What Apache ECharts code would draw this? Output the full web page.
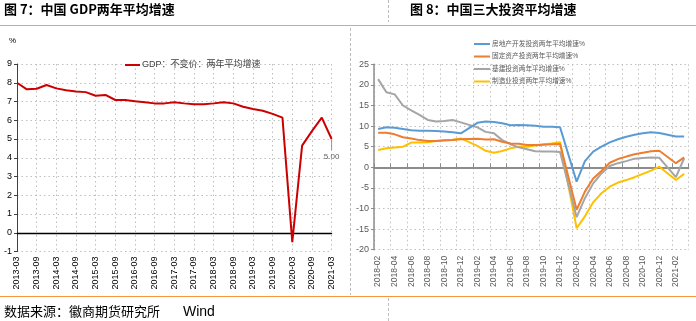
<!DOCTYPE html>
<html><head><meta charset="utf-8">
<script src="https://cdn.jsdelivr.net/npm/echarts@6/dist/echarts.min.js"></script>
<style>html,body{margin:0;padding:0;background:#fff}#c{width:696px;height:321px}</style>
</head><body><div id="c"></div>
<script>
// ---- Left chart data (quarterly) ----
const quarters = ['2013-03','2013-06','2013-09','2013-12','2014-03','2014-06','2014-09','2014-12',
  '2015-03','2015-06','2015-09','2015-12','2016-03','2016-06','2016-09','2016-12',
  '2017-03','2017-06','2017-09','2017-12','2018-03','2018-06','2018-09','2018-12',
  '2019-03','2019-06','2019-09','2019-12','2020-03','2020-06','2020-09','2020-12','2021-03'];
const gdpTwoYearAvg = [8.0,7.65,7.68,7.88,7.70,7.60,7.53,7.50,
  7.31,7.35,7.08,7.08,7.01,6.96,6.90,6.90,
  6.96,6.90,6.85,6.85,6.90,6.96,6.90,6.72,
  6.60,6.51,6.34,6.14,-0.50,4.65,5.42,6.14,5.00];
const gdpName = 'GDP：不变价：两年平均增速';
const leftYTicks = {min:-1, max:9, interval:1};

// ---- Right chart data (monthly) ----
const months = ['2018-02','2018-03','2018-04','2018-05','2018-06','2018-07','2018-08','2018-09','2018-10','2018-11','2018-12',
  '2019-01','2019-02','2019-03','2019-04','2019-05','2019-06','2019-07','2019-08','2019-09','2019-10','2019-11','2019-12',
  '2020-01','2020-02','2020-03','2020-04','2020-05','2020-06','2020-07','2020-08','2020-09','2020-10','2020-11','2020-12',
  '2021-01','2021-02','2021-03'];
const realEstate = [9.3,9.7,9.6,9.3,9.0,8.9,8.9,8.8,8.7,8.5,8.25,
  null,10.8,11.1,11.0,10.7,10.2,10.25,10.2,10.1,9.87,9.87,9.7,
  null,-3.5,1.5,3.8,5.0,6.06,6.8,7.43,7.9,8.25,8.5,8.3,
  null,7.5,7.5];
const fixedAsset = [8.4,8.4,8.0,7.3,7.0,6.6,6.4,6.4,6.5,6.6,6.8,
  null,6.9,6.75,6.8,6.2,5.8,5.7,5.4,5.4,5.5,5.6,5.65,
  null,-10.3,-5.9,-2.7,-0.9,1.1,2.0,2.6,3.15,3.55,3.9,4.0,
  null,1.0,2.4];
const infra = [21.4,18.2,17.7,15.0,13.8,12.7,11.5,11.1,11.25,11.5,10.9,
  null,9.7,8.6,8.25,6.6,5.6,4.85,4.4,3.9,3.85,3.85,3.7,
  null,-12.1,-7.5,-3.9,-1.5,0.3,1.0,1.5,2.1,2.25,2.4,2.3,
  null,-2.4,2.2];
const manufacturing = [4.2,4.6,4.8,5.0,6.0,6.0,6.1,6.4,6.6,6.7,7.0,
  null,5.2,4.0,3.55,3.95,4.6,5.0,5.0,5.3,5.6,5.8,6.07,
  null,-14.8,-11.9,-8.5,-6.3,-4.7,-3.7,-3.1,-2.4,-1.6,-0.8,0.15,
  null,-3.1,-1.6];
const invNames = ['房地产开发投资两年平均增速%','固定资产投资两年平均增速%','基建投资两年平均增速%','制造业投资两年平均增速%'];
const invColors = ['#5B9BD5','#ED7D31','#A5A5A5','#FFC000'];
const rightYTicks = {min:-20, max:25, interval:5};

const FONT = '"Liberation Sans","Noto Sans CJK SC",sans-serif';
const dotted = {type:[1.5,3], color:'#BFBFBF', width:1};

const chart = echarts.init(document.getElementById('c'), null, {renderer:'canvas'});
const invSeries = [realEstate, fixedAsset, infra, manufacturing].map((d,k)=>({
  name: invNames[k], type:'line', xAxisIndex:2, yAxisIndex:1, data:d,
  connectNulls:true, symbol:'none', lineStyle:{color:invColors[k], width:2},
  itemStyle:{color:invColors[k]}, z:3+(3-k)
}));
const lastIdx = gdpTwoYearAvg.length-1;
chart.setOption({
  animation:false,
  textStyle:{fontFamily:FONT},
  grid:[
    {left:17, right:364.4, top:64, bottom:69.5},
    {left:374, right:7.7, top:64.3, bottom:71.3}
  ],
  legend:[
    {data:[gdpName], left:125, top:60, padding:0, icon:'rect', itemWidth:15, itemHeight:2,
     textStyle:{fontSize:9, lineHeight:10, color:'#404040', fontFamily:FONT, padding:[0,0,0,-3]}},
    {data:invNames, left:474, top:40, padding:0, orient:'vertical', icon:'rect', itemWidth:16, itemHeight:2, itemGap:4.5,
     textStyle:{fontSize:6.7, lineHeight:8, color:'#595959', fontFamily:FONT, padding:[0,0,0,-3]}}
  ],
  xAxis:[
    {type:'category', gridIndex:0, data:quarters, boundaryGap:false,
     axisLine:{show:false, onZero:false}, axisTick:{show:false},
     axisLabel:{rotate:90, interval:1, fontSize:9, color:'#000', margin:5},
     splitLine:{show:true, interval:1, lineStyle:dotted}},
    {type:'category', gridIndex:0, data:quarters, boundaryGap:false,
     axisLine:{show:true, onZero:true, lineStyle:{color:'#000', width:1.3}},
     axisTick:{show:false}, axisLabel:{show:false}, splitLine:{show:false}},
    {type:'category', gridIndex:1, data:months, boundaryGap:true,
     axisLine:{show:false, onZero:false}, axisTick:{show:false},
     axisLabel:{rotate:90, interval:1, fontSize:8.5, color:'#595959', margin:6},
     splitLine:{show:true, interval:1, lineStyle:dotted}},
    {type:'category', gridIndex:1, data:months, boundaryGap:true,
     axisLine:{show:true, onZero:true, lineStyle:{color:'#8C8C8C', width:2}},
     axisTick:{show:true, interval:1, length:4, lineStyle:{color:'#8C8C8C', width:1}},
     axisLabel:{show:false}, splitLine:{show:false}}
  ],
  yAxis:[
    {type:'value', gridIndex:0, min:leftYTicks.min, max:leftYTicks.max, interval:leftYTicks.interval,
     axisLine:{show:true, lineStyle:{color:'#404040', width:1}},
     axisTick:{show:true, length:3, lineStyle:{color:'#404040'}},
     axisLabel:{fontSize:9, color:'#000', margin:5},
     splitLine:{show:true, lineStyle:dotted}},
    {type:'value', gridIndex:1, min:rightYTicks.min, max:rightYTicks.max, interval:rightYTicks.interval,
     axisLine:{show:true, lineStyle:{color:'#8C8C8C', width:1.5}},
     axisTick:{show:true, length:3, lineStyle:{color:'#8C8C8C'}},
     axisLabel:{fontSize:9, color:'#595959', margin:5},
     splitLine:{show:true, lineStyle:dotted}}
  ],
  series:[
    {name:gdpName, type:'line', xAxisIndex:0, yAxisIndex:0, data:gdpTwoYearAvg,
     symbol:'none', lineStyle:{color:'#CC0000', width:2}, itemStyle:{color:'#CC0000'}, z:5},
    {name:'lastLabel', type:'scatter', xAxisIndex:0, yAxisIndex:0,
     data:gdpTwoYearAvg.map((v,i)=> i===lastIdx ? v : null),
     symbol:'rect', symbolSize:[1,11], symbolOffset:[0,5.5],
     itemStyle:{color:'#7F7F7F'},
     label:{show:true, position:'bottom', distance:3, fontSize:8, color:'#333',
       formatter:p=>Number(p.value).toFixed(2)}, z:4},
    ...invSeries
  ],
  graphic:[
    {type:'text', left:4, top:3, style:{text:'图 7：中国 GDP两年平均增速', font:'bold 13px "Noto Sans CJK SC","Liberation Sans",sans-serif', fill:'#000'}},
    {type:'text', left:410, top:3, style:{text:'图 8：中国三大投资平均增速', font:'bold 13px "Noto Sans CJK SC","Liberation Sans",sans-serif', fill:'#000'}},
    {type:'line', shape:{x1:0, y1:25.5, x2:696, y2:25.5}, style:{stroke:'#EFA06A', lineWidth:1.2}},
    {type:'line', shape:{x1:0, y1:296.5, x2:696, y2:296.5}, style:{stroke:'#F6953A', lineWidth:1.2}},
    {type:'line', shape:{x1:388.5, y1:0, x2:388.5, y2:22}, style:{stroke:'#BDBDBD', lineWidth:1, lineDash:[3,2]}},
    {type:'line', shape:{x1:350.5, y1:28, x2:350.5, y2:295}, style:{stroke:'#BDBDBD', lineWidth:1, lineDash:[3,2]}},
    {type:'line', shape:{x1:388.5, y1:298, x2:388.5, y2:321}, style:{stroke:'#BDBDBD', lineWidth:1, lineDash:[3,2]}},
    {type:'text', left:9, top:37, style:{text:'%', font:'8px "Liberation Sans",sans-serif', fill:'#000'}},
    {type:'text', left:4, top:305, style:{text:'数据来源：徽商期货研究所', font:'13px "Noto Sans CJK SC",sans-serif', fill:'#000'}},
    {type:'text', left:183, top:305, style:{text:'Wind', font:'14px "Liberation Sans",sans-serif', fill:'#000'}}
  ]
});
</script>
</body></html>
